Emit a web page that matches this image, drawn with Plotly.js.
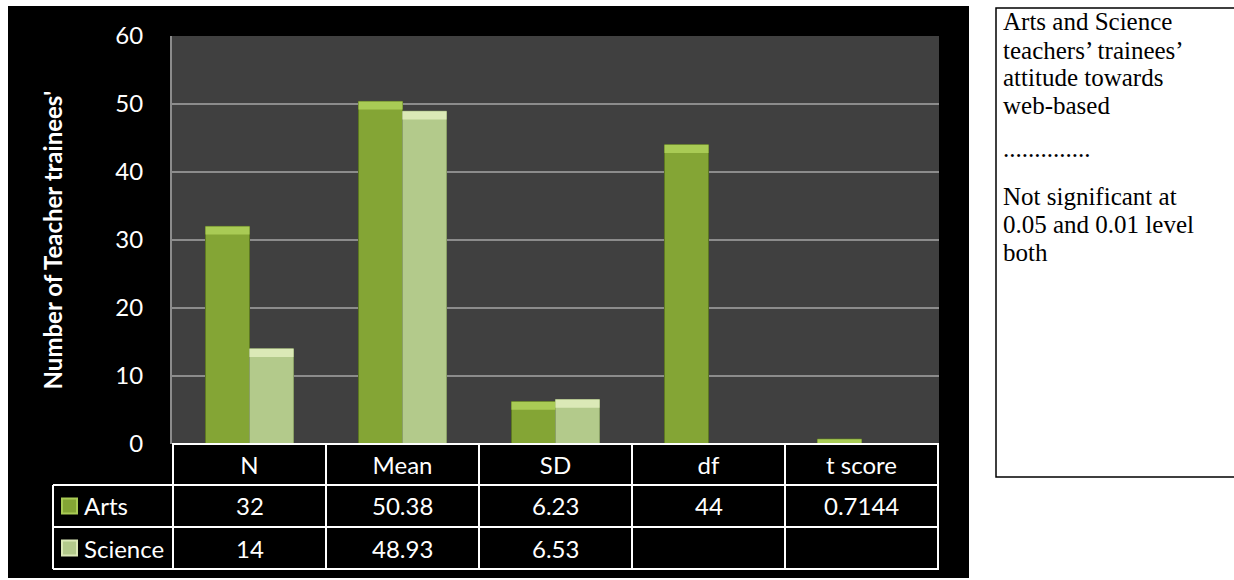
<!DOCTYPE html>
<html>
<head>
<meta charset="utf-8">
<script src="https://cdn.plot.ly/plotly-3.0.1.min.js"></script>
<style>
  html, body { margin: 0; padding: 0; background: #ffffff; }
  #chart { width: 1234px; height: 580px; }
</style>
</head>
<body>
<div id="chart"></div>
<script>
// Statistics shown as bars and in the data table under the plot
const categories = ['N', 'Mean', 'SD', 'df', 't score'];
const artsValues = [32, 50.38, 6.23, 44, 0.7144];
const scienceValues = [14, 48.93, 6.53, null, null];
const seriesNames = ['Arts', 'Science'];
const yTickValues = [0, 10, 20, 30, 40, 50, 60];
const yTitle = "Number of Teacher trainees'";

// Side note text, one entry per line (empty entries are paragraph breaks)
const noteLines = [
  'Arts and Science',
  'teachers\u2019 trainees\u2019',
  'attitude towards',
  'web-based',
  '',
  '..............',
  '',
  'Not significant at',
  '0.05 and 0.01 level',
  'both'
];

// Plot frame in pixels
const W = 1234, H = 580;
const M = { l: 172, r: W - 939, t: 36, b: H - 444 };
const plotW = W - M.l - M.r, plotH = H - M.t - M.b;
const px = x => (x - M.l) / plotW;          // pixel x -> paper x
const py = y => (H - M.b - y) / plotH;      // pixel y -> paper y

const colors = {
  arts: '#84a535', artsTop: '#a9cb55', artsEdge: '#5d7822',
  science: '#b3ca8b', scienceTop: '#dbe9b7', scienceEdge: '#8ba067'
};

// Light top face of each bar: a thin slab sitting on the bar's top
const bevelUnits = 1.2;
const bevelHeight = vals => vals.map(v => v == null ? null : Math.min(v, bevelUnits));
const bevelBase = vals => vals.map(v => v == null ? null : v - Math.min(v, bevelUnits));

const traces = [
  { type: 'bar', name: seriesNames[0], x: categories, y: artsValues, offsetgroup: 'a',
    marker: { color: colors.arts, line: { color: colors.artsEdge, width: 1 } } },
  { type: 'bar', name: seriesNames[1], x: categories, y: scienceValues, offsetgroup: 's',
    marker: { color: colors.science, line: { color: colors.scienceEdge, width: 1 } } },
  { type: 'bar', name: seriesNames[0], x: categories, y: bevelHeight(artsValues),
    base: bevelBase(artsValues), offsetgroup: 'a', hoverinfo: 'skip',
    marker: { color: colors.artsTop, line: { width: 0 } } },
  { type: 'bar', name: seriesNames[1], x: categories, y: bevelHeight(scienceValues),
    base: bevelBase(scienceValues), offsetgroup: 's', hoverinfo: 'skip',
    marker: { color: colors.scienceTop, line: { width: 0 } } }
];

const font = 'Lato, "Open Sans", sans-serif';
const shapes = [];
const annotations = [];

// White page around the dark chart block
const white = { type: 'rect', xref: 'paper', yref: 'paper', layer: 'above',
  fillcolor: '#ffffff', line: { width: 0 } };
shapes.push(Object.assign({}, white, { x0: px(969), x1: px(W + 5), y0: py(-5), y1: py(H + 5) }));
shapes.push(Object.assign({}, white, { x0: px(-5), x1: px(969), y0: py(-5), y1: py(6) }));
shapes.push(Object.assign({}, white, { x0: px(-5), x1: px(8), y0: py(-5), y1: py(H + 5) }));
shapes.push(Object.assign({}, white, { x0: px(-5), x1: px(969), y0: py(578), y1: py(H + 5) }));

// Note box
shapes.push({ type: 'rect', xref: 'paper', yref: 'paper', layer: 'above',
  x0: px(996), x1: px(W + 5), y0: py(8), y1: py(477),
  fillcolor: '#ffffff', line: { color: '#000000', width: 1.5 } });
const noteY = [22, 50, 78, 106, null, 148, null, 196, 224, 252];
noteLines.forEach((t, i) => {
  if (!t) return;
  annotations.push({ xref: 'paper', yref: 'paper', x: px(1001), y: py(noteY[i]),
    xanchor: 'left', yanchor: 'middle', showarrow: false, text: t,
    font: { family: '"Liberation Serif", "Times New Roman", serif', size: 25, color: '#000000' } });
});

// Data table under the plot
const rowTop = [444, 485, 527, 569];
const tableLeft = 53;
const line = { color: '#ffffff', width: 2 };
shapes.push({ type: 'line', xref: 'paper', yref: 'paper', layer: 'above', line,
  x0: 0, x1: 1, y0: py(rowTop[0]), y1: py(rowTop[0]) });
for (let r = 1; r < rowTop.length; r++) {
  shapes.push({ type: 'line', xref: 'paper', yref: 'paper', layer: 'above', line,
    x0: px(tableLeft), x1: 1, y0: py(rowTop[r]), y1: py(rowTop[r]) });
}
shapes.push({ type: 'line', xref: 'paper', yref: 'paper', layer: 'above', line,
  x0: px(tableLeft), x1: px(tableLeft), y0: py(rowTop[1]), y1: py(rowTop[3]) });
for (let c = 0; c <= categories.length; c++) {
  shapes.push({ type: 'line', xref: 'x', yref: 'paper', layer: 'above', line,
    x0: c - 0.5, x1: c - 0.5, y0: py(rowTop[0]), y1: py(rowTop[3]) });
}

const cellFont = { family: font, size: 24, color: '#ffffff' };
[artsValues, scienceValues].forEach((vals, r) => {
  const yc = py((rowTop[r + 1] + rowTop[r + 2]) / 2);
  vals.forEach((v, c) => {
    if (v == null) return;
    annotations.push({ xref: 'x', yref: 'paper', x: categories[c], y: yc,
      xanchor: 'center', yanchor: 'middle', showarrow: false, text: String(v), font: cellFont });
  });
  // legend key and series name
  const keyFill = r === 0 ? colors.arts : colors.science;
  const keyTop = r === 0 ? colors.artsTop : colors.scienceTop;
  const cy = (rowTop[r + 1] + rowTop[r + 2]) / 2;
  shapes.push({ type: 'rect', xref: 'paper', yref: 'paper', layer: 'above',
    x0: px(62), x1: px(77), y0: py(cy + 7.5), y1: py(cy - 7.5),
    fillcolor: keyFill, line: { color: keyTop, width: 2 } });
  annotations.push({ xref: 'paper', yref: 'paper', x: px(82), y: yc,
    xanchor: 'left', yanchor: 'middle', showarrow: false, text: seriesNames[r], font: cellFont });
});

const layout = {
  width: W, height: H,
  margin: M,
  paper_bgcolor: '#000000',
  plot_bgcolor: '#404040',
  barmode: 'group',
  bargap: 0.425,
  bargroupgap: 0,
  showlegend: false,
  font: { family: font, color: '#ffffff' },
  xaxis: {
    type: 'category', categoryarray: categories,
    showgrid: false, zeroline: false, showline: false, ticks: '',
    ticklabelstandoff: 5,
    tickfont: { family: font, size: 24, color: '#ffffff' },
    fixedrange: true
  },
  yaxis: {
    range: [0, 60], tickvals: yTickValues, ticktext: yTickValues.map(String),
    showgrid: true, gridcolor: '#8c8c8c', gridwidth: 2,
    zeroline: false, showline: true, linecolor: '#8c8c8c', linewidth: 2,
    ticks: '', ticklabelstandoff: 22,
    tickfont: { family: font, size: 24, color: '#ffffff' },
    title: { text: yTitle, standoff: 46, font: { family: font, size: 24, color: '#ffffff', weight: 'bold' } },
    fixedrange: true
  },
  shapes, annotations
};

Plotly.newPlot('chart', traces, layout, { displayModeBar: false, staticPlot: true });
</script>
</body>
</html>
